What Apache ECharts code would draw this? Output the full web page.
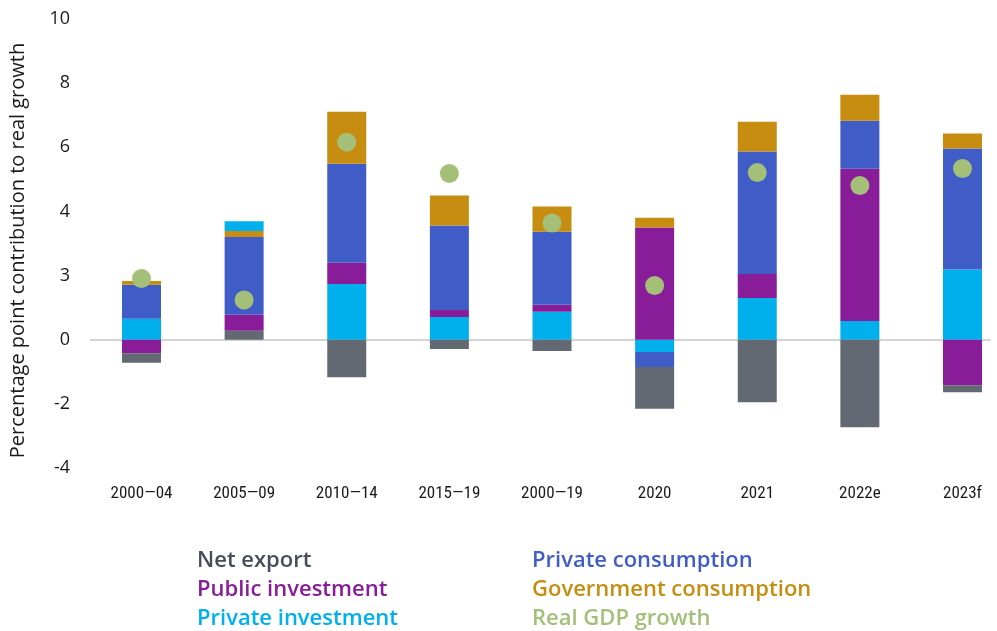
<!DOCTYPE html>
<html>
<head>
<meta charset="utf-8">
<script src="https://cdn.jsdelivr.net/npm/echarts@6/dist/echarts.min.js"></script>
<style>
html,body{margin:0;padding:0;background:#fff;}
#chart{width:997px;height:631px;}
</style>
</head>
<body>
<div id="chart"></div>
<script>
const categories = ['2000—04', '2005—09', '2010—14', '2015—19', '2000—19', '2020', '2021', '2022e', '2023f'];
const netExport = [-0.30, 0.28, -1.17, -0.29, -0.35, -1.30, -1.95, -2.73, -0.22];
const publicInvestment = [-0.42, 0.50, 0.66, 0.22, 0.22, 3.50, 0.75, 4.75, -1.42];
const privateInvestment = [0.65, 0.30, 1.74, 0.71, 0.87, -0.38, 1.30, 0.58, 2.19];
const privateConsumption = [1.06, 2.42, 3.09, 2.63, 2.28, -0.47, 3.82, 1.50, 3.77];
const governmentConsumption = [0.12, 0.19, 1.62, 0.94, 0.78, 0.30, 0.93, 0.81, 0.47];
const realGDPGrowth = [1.91, 1.24, 6.16, 5.18, 3.64, 1.69, 5.21, 4.81, 5.34];
// categories whose private-investment segment is drawn at the top of the stack
const privateInvestmentOnTop = ['2005—09'];
const yTickValues = [-4, -2, 0, 2, 4, 6, 8, 10];
const yTickLabels = ['-4', '-2', '0', '3', '4', '6', '8', '10'];

const C = {
  ne: '#636973', pubI: '#881c99', privI: '#00b0ec', pc: '#405dc7', gc: '#c68d10', gdp: '#a4bf78', neText: '#474d5a'
};

function pick(arr, keep) {
  return arr.map((v, i) => keep(v, i) ? v : '-');
}
const onTop = i => privateInvestmentOnTop.indexOf(categories[i]) >= 0;

function bar(name, color, data) {
  return { name, type: 'bar', stack: 'total', barWidth: 39, xAxisIndex: 0, yAxisIndex: 0,
    itemStyle: { color }, data, emphasis: { disabled: true } };
}

const series = [
  bar('Net export', C.ne, pick(netExport, v => v > 0)),
  bar('Private investment', C.privI, pick(privateInvestment, (v, i) => !onTop(i))),
  bar('Public investment', C.pubI, pick(publicInvestment, () => true)),
  bar('Private consumption', C.pc, pick(privateConsumption, () => true)),
  bar('Government consumption', C.gc, pick(governmentConsumption, () => true)),
  bar('Private investment', C.privI, pick(privateInvestment, (v, i) => onTop(i))),
  bar('Net export', C.ne, pick(netExport, v => v < 0)),
  { name: 'Real GDP growth', type: 'scatter', symbolSize: 19, z: 5, xAxisIndex: 0, yAxisIndex: 0,
    itemStyle: { color: C.gdp, opacity: 1 }, data: realGDPGrowth }
];

const legendFont = { fontFamily: 'Open Sans', fontSize: 22, fontWeight: 600, lineHeight: 29 };
function legend(left, items) {
  return {
    orient: 'vertical', left, top: 546, height: 120, padding: 0, itemWidth: 0, itemHeight: 10, itemGap: 0, icon: 'none',
    selectedMode: false, textStyle: legendFont,
    data: items.map(([name, color]) => ({ name, icon: 'none', textStyle: { color } }))
  };
}

const chart = echarts.init(document.getElementById('chart'));
chart.setOption({
  animation: false,
  backgroundColor: '#fff',
  grid: [
    { left: 141.5, right: 34.5, top: 19, bottom: 163 },
    { left: 86, right: 6, top: 19, bottom: 163 }
  ],
  legend: [
    legend(192, [['Net export', C.neText], ['Public investment', C.pubI], ['Private investment', C.privI]]),
    legend(527, [['Private consumption', C.pc], ['Government consumption', C.gc], ['Real GDP growth', C.gdp]])
  ],
  xAxis: [
    {
      type: 'category', gridIndex: 0, data: categories, boundaryGap: false,
      axisLine: { show: false }, axisTick: { show: false }, splitLine: { show: false },
      axisLabel: { interval: 0, margin: 17, color: '#1a1a1a', fontFamily: 'Liberation Sans Narrow, Roboto Condensed, Roboto', fontSize: 17 }
    },
    { type: 'value', gridIndex: 1, show: false, min: 0, max: 1 }
  ],
  yAxis: [
    { type: 'value', gridIndex: 0, min: -4, max: 10, interval: 2, show: false, splitLine: { show: false } },
    {
      type: 'value', gridIndex: 1, min: -4, max: 10, interval: 2,
      name: 'Percentage point contribution to real growth', nameLocation: 'middle', nameRotate: 90, nameGap: 62,
      nameTextStyle: { color: '#1a1a1a', fontFamily: 'Open Sans', fontSize: 20, padding: [0, 14, 0, 0] },
      axisLine: { show: false }, axisTick: { show: false },
      splitLine: { show: true, lineStyle: { color: yTickValues.map(v => v === 0 ? '#c6c6c6' : 'rgba(0,0,0,0)'), width: 1.5 } },
      axisLabel: {
        margin: 20, color: '#1a1a1a', fontFamily: 'Open Sans', fontSize: 18,
        formatter: v => { const k = yTickValues.indexOf(v); return k >= 0 ? yTickLabels[k] : ''; }
      }
    }
  ],
  series
});
</script>
</body>
</html>
